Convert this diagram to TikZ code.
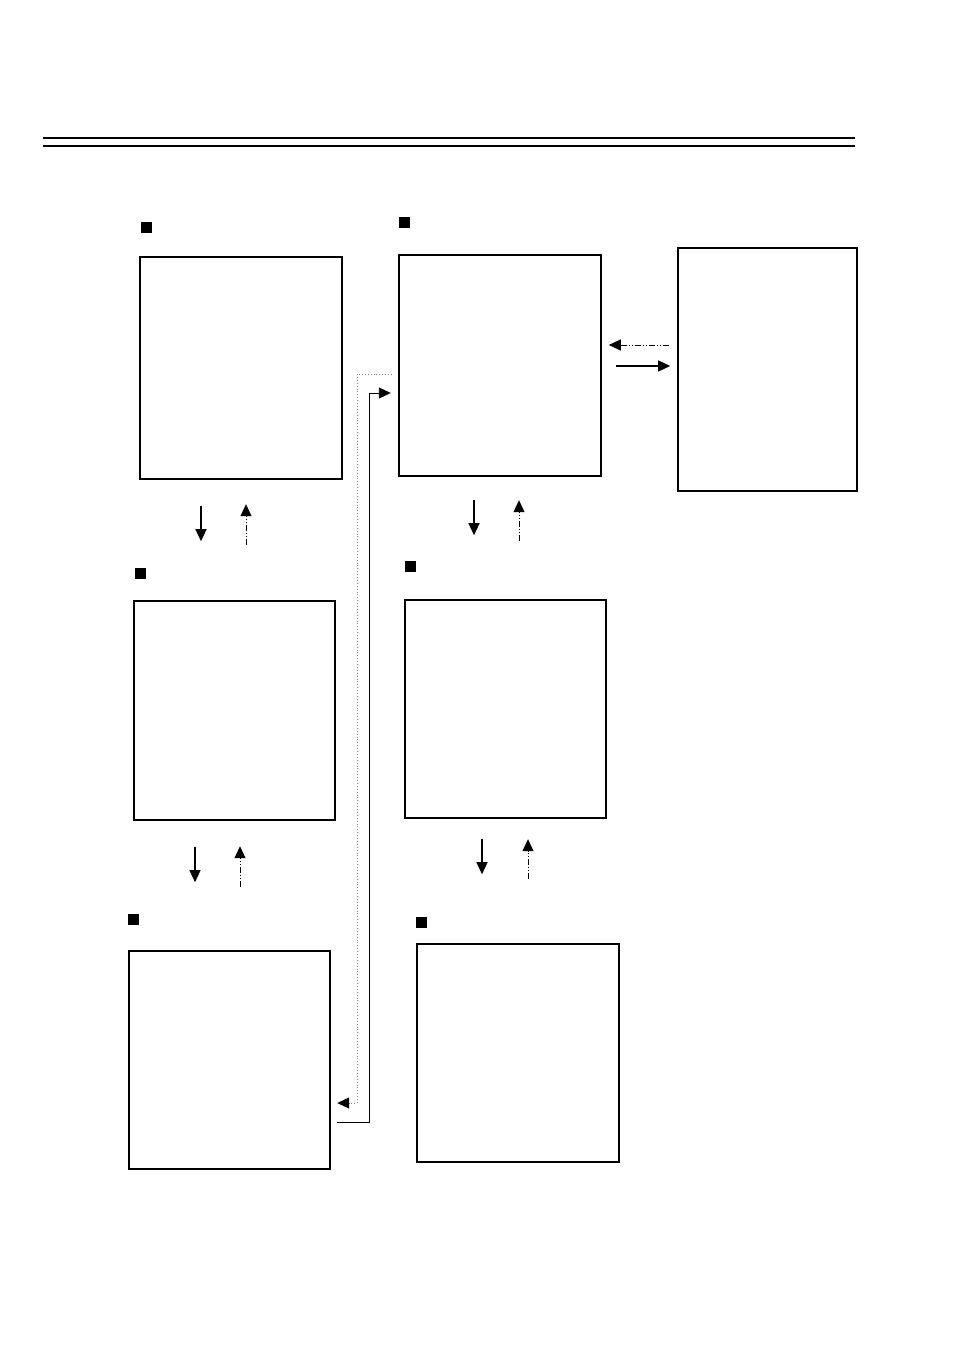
\documentclass[tikz,border=0pt]{standalone}
\usetikzlibrary{arrows.meta,calc}

\tikzset{
	block/.style={draw,line width=2.4pt,anchor=center,inner sep=0pt},
	marker/.style={fill=black,minimum size=11pt,inner sep=0pt},
	flow/.style={line width=1.3pt,-{Triangle[length=12pt,width=11pt]}},
	backflow/.style={line width=1pt,dash pattern=on 6pt off 2pt on 1pt off 2pt on 1pt off 2pt,-{Triangle[length=12pt,width=11pt]}},
	link/.style={line width=0.9pt,-{Triangle[length=12pt,width=11pt]}},
	dotlink/.style={line width=0.9pt,gray,dotted,-{Triangle[length=12pt,width=11pt,color=black]}},
}

\begin{document}
\begin{tikzpicture}[x=1pt,y=-1pt]
				\useasboundingbox (0,0) rectangle (954,1351);

				% header rule
				\draw[line width=2.6pt] (43,138) -- (855,138);
				\draw[line width=2.6pt] (43,146) -- (855,146);

				% blocks
				\node[block,minimum width=202pt,minimum height=222pt] (blockA) at (241,368) {};
				\node[block,minimum width=202pt,minimum height=221pt] (blockB) at (500,365.5) {};
				\node[block,minimum width=179pt,minimum height=243pt] (blockC) at (767.5,369.5) {};
				\node[block,minimum width=201pt,minimum height=219pt] (blockD) at (234.5,710.5) {};
				\node[block,minimum width=201pt,minimum height=218pt] (blockE) at (505.5,709) {};
				\node[block,minimum width=201pt,minimum height=218pt] (blockF) at (229.5,1060) {};
				\node[block,minimum width=202pt,minimum height=218pt] (blockG) at (518,1053) {};

				% markers
				\node[marker] (markA) at (146.5,227) {};
				\node[marker] (markB) at (404.5,222) {};
				\node[marker] (markD) at (140,573.5) {};
				\node[marker] (markE) at (410.5,566.5) {};
				\node[marker] (markF) at (133,919.5) {};
				\node[marker] (markG) at (421.5,922.5) {};

				% A <-> D
				\draw[flow] ($(blockA.south)+(-40,26)$) -- ++(0,35);
				\draw[backflow] ($(blockA.south)+(5,65)$) -- ++(0,-41);

				% B <-> E
				\draw[flow] ($(blockB.south)+(-26,23)$) -- ++(0,35);
				\draw[backflow] ($(blockB.south)+(19,64)$) -- ++(0,-41);

				% D <-> F
				\draw[flow] ($(blockD.south)+(-39.5,26)$) -- ++(0,35);
				\draw[backflow] ($(blockD.south)+(5.5,66)$) -- ++(0,-41);

				% E <-> G
				\draw[flow] ($(blockE.south)+(-23.5,20)$) -- ++(0,35);
				\draw[backflow] ($(blockE.south)+(22.5,60)$) -- ++(0,-40);

				% B <-> C
				\draw[backflow] ($(blockC.west)+(-8,-24.5)$) -- ++(-60,0);
				\draw[flow] ($(blockB.east)+(14,0.5)$) -- ++(54,0);

				% B <-> F
				\coordinate (outB) at ($(blockB.west)+(-6,8.5)$);
				\coordinate (inF) at ($(blockF.east)+(6,43)$);
				\draw[dotlink] (outB) -- (outB -| 357,0) |- (inF);
				\coordinate (outF) at ($(blockF.east)+(6,62)$);
				\coordinate (inB) at ($(blockB.west)+(-7,27.5)$);
				\draw[link] (outF) -- (outF -| 369,0) |- (inB);
\end{tikzpicture}
\end{document}
